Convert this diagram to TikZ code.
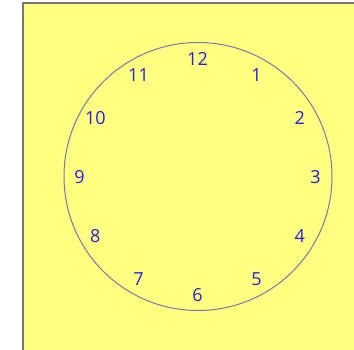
\documentclass[tikz,border=0pt]{standalone}
\usepackage{fontspec}
\setmainfont{Open Sans}
\definecolor{bgyellow}{RGB}{255,255,128}
\definecolor{framegray}{RGB}{120,120,110}
\definecolor{ringblue}{RGB}{120,120,175}
\definecolor{numblue}{RGB}{35,35,220}
\begin{document}
\begin{tikzpicture}[x=1pt,y=-1pt,
  num/.style={text=numblue,font=\fontsize{18}{18}\selectfont,inner sep=0pt,anchor=center}]
\useasboundingbox (0,0) rectangle (354,350);
\fill[white] (0,0) rectangle (354,350);
\fill[bgyellow] (22,2) rectangle (354,350);
\draw[framegray,line width=2pt] (23,350) -- (23,3) -- (354,3);
\node[draw=ringblue,line width=1pt,circle,minimum size=268pt,inner sep=0pt] (face) at (198,176.5) {};
\foreach \h in {1,...,12}{
  \node[num] (n\h) at ({197.5+118*sin(30*\h)},{177-118*cos(30*\h)}) {\h};
}
\end{tikzpicture}
\end{document}
